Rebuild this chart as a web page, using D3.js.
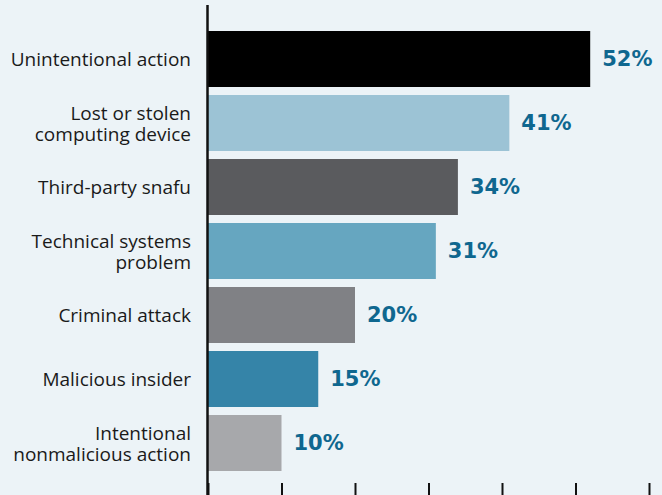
<!DOCTYPE html>
<html>
<head>
<meta charset="utf-8">
<script src="https://cdn.jsdelivr.net/npm/d3@7"></script>
<style>
  html, body { margin: 0; padding: 0; background: #ecf3f7; }
  svg { display: block; }
</style>
</head>
<body>
<div id="chartDiv"></div>
<script>
var width = 662;
var height = 495;
var margin = { top: 31, right: 13, bottom: 24, left: 208 };

// chart values
var categories = [
    ["Unintentional action"],
    ["Lost or stolen", "computing device"],
    ["Third-party snafu"],
    ["Technical systems", "problem"],
    ["Criminal attack"],
    ["Malicious insider"],
    ["Intentional", "nonmalicious action"]
];
var values = [52, 41, 34, 31, 20, 15, 10];
var barColors = ["#000000", "#9cc3d5", "#5a5b5e", "#66a6c0", "#808185", "#3584a8", "#a7a8ab"];
var tickValues = [0, 10, 20, 30, 40, 50, 60];

var labelColor = "#0f678f";

var svg = d3.select("#chartDiv").append("svg")
    .attr("width", width)
    .attr("height", height);

var x = d3.scaleLinear().domain([0, 60]).range([margin.left, margin.left + 441]);
var y = d3.scaleBand()
    .domain(d3.range(values.length))
    .range([margin.top, margin.top + 64 * values.length - 8])
    .paddingInner(8 / 64)
    .paddingOuter(0);

// bars
svg.selectAll(".bar")
    .data(values)
    .enter().append("rect")
    .attr("class", "bar")
    .attr("x", x(0))
    .attr("y", function(d, i) { return y(i); })
    .attr("width", function(d) { return x(d) - x(0); })
    .attr("height", y.bandwidth())
    .style("fill", function(d, i) { return barColors[i]; });

// value labels
svg.selectAll(".val")
    .data(values)
    .enter().append("text")
    .attr("class", "val")
    .attr("x", function(d) { return x(d) + 12; })
    .attr("y", function(d, i) { return y(i) + y.bandwidth() / 2 + 7; })
    .style("font-family", "'DejaVu Sans', sans-serif")
    .style("font-weight", "bold")
    .style("font-size", "21px")
    .style("fill", labelColor)
    .text(function(d) { return d + "%"; });

// category labels
var lab = svg.selectAll(".cat")
    .data(categories)
    .enter().append("text")
    .attr("class", "cat")
    .attr("text-anchor", "end")
    .style("font-family", "'Open Sans', sans-serif")
    .style("font-size", "19px")
    .style("fill", "#1a1a1a");

lab.each(function(lines, i) {
    var mid = y(i) + y.bandwidth() / 2;
    var lineH = 21;
    var first = mid + 7 - (lines.length - 1) * lineH / 2;
    d3.select(this).selectAll("tspan")
        .data(lines)
        .enter().append("tspan")
        .attr("x", 191)
        .attr("y", function(d, j) { return first + j * lineH; })
        .text(function(d) { return d; });
});

// x axis: ticks only at the bottom
var xAxis = d3.axisBottom(x)
    .tickValues(tickValues)
    .tickSize(12)
    .tickSizeOuter(0)
    .tickFormat("");

var axisG = svg.append("g")
    .attr("transform", "translate(0," + (height - 12) + ")")
    .call(xAxis);
axisG.select(".domain").remove();
axisG.selectAll(".tick line")
    .attr("stroke", "#111")
    .attr("stroke-width", 2);

// vertical axis line
svg.append("line")
    .attr("x1", x(0) - 0.5)
    .attr("x2", x(0) - 0.5)
    .attr("y1", 5)
    .attr("y2", height)
    .attr("stroke", "#111")
    .attr("stroke-width", 2.5);
</script>
</body>
</html>
